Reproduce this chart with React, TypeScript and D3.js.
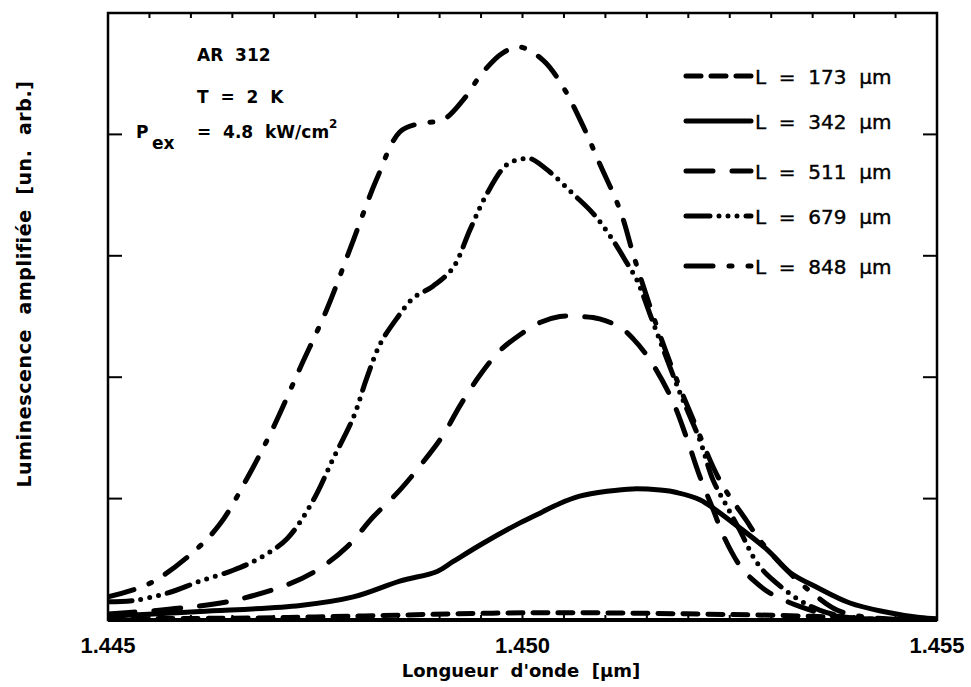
import React from 'react';
import * as d3 from 'd3';

// wavelength (µm) / intensity (arb. units)
const s173: [number, number][] = [
  [1.445, 0.01], [1.4465, 0.015], [1.4475, 0.025], [1.4485, 0.04], [1.4495, 0.055],
  [1.4505, 0.06], [1.4515, 0.055], [1.4525, 0.045], [1.4535, 0.03], [1.4541, 0.01], [1.455, 0.0],
];
const s342: [number, number][] = [
  [1.445, 0.03], [1.44611, 0.07], [1.44732, 0.12], [1.44796, 0.19], [1.44852, 0.32],
  [1.44897, 0.4], [1.44916, 0.48], [1.44952, 0.63], [1.44997, 0.8], [1.45021, 0.88],
  [1.45045, 0.96], [1.45069, 1.02], [1.45102, 1.06], [1.45133, 1.08], [1.45166, 1.07],
  [1.45186, 1.05], [1.45214, 0.99], [1.45254, 0.8], [1.45295, 0.58], [1.45323, 0.39],
  [1.45355, 0.27], [1.45395, 0.14], [1.45435, 0.07], [1.45479, 0.02], [1.455, 0.01],
];
const s511: [number, number][] = [
  [1.445, 0.05], [1.44542, 0.07], [1.4459, 0.1], [1.44651, 0.16], [1.44716, 0.29],
  [1.44752, 0.41], [1.44788, 0.6], [1.4482, 0.85], [1.44852, 1.07], [1.4488, 1.3],
  [1.44904, 1.52], [1.44925, 1.77], [1.44949, 2.02], [1.44973, 2.22], [1.44997, 2.35],
  [1.45021, 2.45], [1.45045, 2.5], [1.45069, 2.5], [1.45093, 2.48], [1.45118, 2.41],
  [1.45133, 2.32], [1.45154, 2.14], [1.4518, 1.82], [1.45198, 1.5], [1.45214, 1.18],
  [1.4523, 0.91], [1.45242, 0.7], [1.45262, 0.45], [1.45278, 0.33], [1.45299, 0.22],
  [1.45335, 0.11], [1.45371, 0.04], [1.45419, 0.01], [1.455, 0.0],
];
const s679: [number, number][] = [
  [1.445, 0.15], [1.4453, 0.16], [1.44571, 0.22], [1.44611, 0.32], [1.44651, 0.41],
  [1.44683, 0.51], [1.44716, 0.67], [1.44747, 0.98], [1.44771, 1.32], [1.44796, 1.67],
  [1.44812, 1.99], [1.44828, 2.27], [1.44849, 2.49], [1.44868, 2.65], [1.44892, 2.75],
  [1.44916, 2.9], [1.44937, 3.22], [1.44957, 3.51], [1.44981, 3.75], [1.45001, 3.8],
  [1.4501, 3.8], [1.45033, 3.69], [1.45061, 3.51], [1.45085, 3.35], [1.45106, 3.16],
  [1.45126, 2.94], [1.45138, 2.8], [1.45157, 2.46], [1.4519, 1.87], [1.45214, 1.48],
  [1.4523, 1.15], [1.45247, 0.93], [1.45262, 0.74], [1.45283, 0.47], [1.45302, 0.33],
  [1.45335, 0.16], [1.45359, 0.08], [1.45395, 0.02], [1.455, 0.0],
];
const s848: [number, number][] = [
  [1.445, 0.19], [1.4455, 0.3], [1.44603, 0.56], [1.44635, 0.79], [1.44668, 1.17],
  [1.44699, 1.58], [1.44732, 2.08], [1.44764, 2.56], [1.44796, 3.13], [1.44824, 3.63],
  [1.44852, 4.02], [1.44876, 4.09], [1.44904, 4.12], [1.44928, 4.28], [1.44952, 4.51],
  [1.44976, 4.67], [1.44997, 4.72], [1.45025, 4.61], [1.45049, 4.39], [1.45073, 4.07],
  [1.45093, 3.76], [1.45118, 3.37], [1.45135, 2.98], [1.45162, 2.42], [1.45186, 1.98],
  [1.45206, 1.65], [1.45238, 1.15], [1.4527, 0.82], [1.45286, 0.66], [1.45319, 0.41],
  [1.4535, 0.22], [1.4538, 0.08], [1.45419, 0.02], [1.455, 0.0],
];

const seriesNames = ['L  =  173  µm', 'L  =  342  µm', 'L  =  511  µm', 'L  =  679  µm', 'L  =  848  µm'];
const seriesData = [s173, s342, s511, s679, s848];
const dashes = ['15,10', 'none', '27,19', '24,9,0,9,0,9,0,9', '27,16,3,16'];

const xTickLabels = [1.445, 1.45, 1.455];
const yTicks = [1, 2, 3, 4];

const W = 971;
const H = 687;
const left = 108, right = 937, top = 13, bottom = 620;

const bold = '"DejaVu Sans", sans-serif';
const helv = '"Liberation Sans", Arial, sans-serif';
const nb = (s: string) => s.replace(/ /g, '\u00a0');

export default function App() {
  const x = d3.scaleLinear().domain([1.445, 1.455]).range([left, right]);
  const y = d3.scaleLinear().domain([0, 5]).range([bottom, top]);
  const line = d3.line<[number, number]>()
    .x(d => x(d[0]))
    .y(d => y(d[1]))
    .curve(d3.curveCatmullRom.alpha(0.5));

  const minor = d3.range(0, 21).map(i => 1.445 + i * 0.0005);

  return (
    <svg width={W} height={H} style={{ position: 'absolute', left: 0, top: 0 }}>
      <rect width={W} height={H} fill="#fff" />
      <defs>
        <clipPath id="plot">
          <rect x={left} y={top - 5} width={right - left} height={bottom - top + 5} />
        </clipPath>
      </defs>
      <g clipPath="url(#plot)">
        {seriesData.map((d, i) => (
          <path key={i} d={line(d) || ''} fill="none" stroke="#000" strokeWidth={5}
            strokeLinecap="round" strokeLinejoin="round"
            strokeDasharray={dashes[i]} />
        ))}
      </g>

      {/* frame */}
      <rect x={left} y={top} width={right - left} height={bottom - top}
        fill="none" stroke="#000" strokeWidth={2.5} />
      <line x1={left} x2={right} y1={bottom} y2={bottom} stroke="#000" strokeWidth={4} />

      {minor.map((t, i) => (
        <g key={i} stroke="#000" strokeWidth={2}>
          <line x1={x(t)} x2={x(t)} y1={top} y2={top + 5} />
          <line x1={x(t)} x2={x(t)} y1={bottom} y2={bottom - 5} />
        </g>
      ))}
      {yTicks.map(t => (
        <g key={t} stroke="#000" strokeWidth={2}>
          <line x1={left} x2={left + 14} y1={y(t)} y2={y(t)} />
          <line x1={right} x2={right - 14} y1={y(t)} y2={y(t)} />
        </g>
      ))}

      {xTickLabels.map(t => (
        <text key={t} x={x(t)} y={653} textAnchor="middle" fontFamily={helv}
          fontWeight="bold" fontSize={22}>{t.toFixed(3)}</text>
      ))}
      <text x={521} y={677} textAnchor="middle" fontFamily={bold} fontWeight="bold"
        fontSize={18}>{nb("Longueur  d'onde  [µm]")}</text>
      <text transform="translate(31,284) rotate(-90)" textAnchor="middle" fontFamily={bold}
        fontWeight="bold" fontSize={19} letterSpacing={0.6}>{nb('Luminescence  amplifiée  [un.  arb.]')}</text>

      {/* annotation */}
      <g fontFamily={bold} fontWeight="bold" fontSize={17}>
        <text x={197} y={61}>{nb('AR  312')}</text>
        <text x={197} y={103}>{nb('T  =  2  K')}</text>
        <text x={136} y={138}>P</text>
        <text x={152} y={149}>ex</text>
        <text x={197} y={138}>{nb('=  4.8  kW/cm')}<tspan fontSize={12} dy={-10}>2</tspan></text>
      </g>

      {/* legend */}
      {seriesNames.map((name, i) => {
        const yy = [76, 121, 171, 216, 266][i];
        return (
          <g key={name}>
            <line x1={686} x2={751} y1={yy} y2={yy} stroke="#000" strokeWidth={5}
              strokeLinecap="round" strokeDasharray={dashes[i]} />
            <text x={755} y={yy + 8} fontFamily={bold} fontSize={20}
              stroke="#000" strokeWidth={0.4}>{nb(name)}</text>
          </g>
        );
      })}
    </svg>
  );
}
